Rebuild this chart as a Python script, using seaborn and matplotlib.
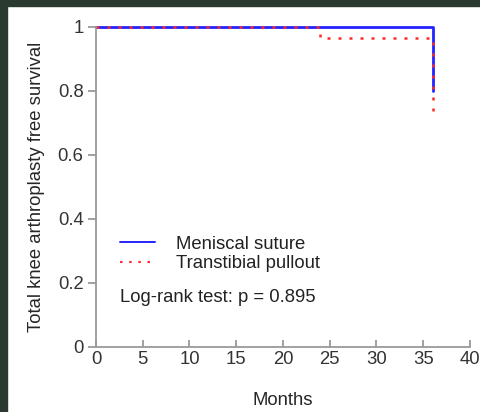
import matplotlib
matplotlib.use("Agg")
import matplotlib.pyplot as plt
import seaborn as sns
import pandas as pd
from matplotlib.patches import Rectangle

# Kaplan-Meier step data (months, survival)
suture_months = [0, 36, 36]
suture_surv = [1.0, 1.0, 0.80]
pullout_months = [0, 24, 24, 36, 36]
pullout_surv = [1.0, 1.0, 0.967, 0.967, 0.73]
group_names = ["Meniscal suture", "Transtibial pullout"]
x_ticks = [0, 5, 10, 15, 20, 25, 30, 35, 40]
y_ticks = [0, 0.2, 0.4, 0.6, 0.8, 1]
y_tick_labels = ["0", "0.2", "0.4", "0.6", "0.8", "1"]
stat_text = "Log-rank test: p = 0.895"

sns.set_style("white")
plt.rcParams["font.family"] = ["Liberation Sans", "DejaVu Sans"]
fs = 13.3

df = pd.concat([
    pd.DataFrame({"Months": suture_months, "surv": suture_surv, "group": group_names[0]}),
    pd.DataFrame({"Months": pullout_months, "surv": pullout_surv, "group": group_names[1]}),
])

fig = plt.figure(figsize=(4.81, 4.12), dpi=100)
ax = fig.add_axes([0.1996, 0.158, 0.7774, 0.7765])

sns.lineplot(data=df[df.group == group_names[0]], x="Months", y="surv", sort=False,
             color="#2323ff", lw=2.0, ax=ax, label=group_names[0], estimator=None)
sns.lineplot(data=df[df.group == group_names[1]], x="Months", y="surv", sort=False,
             color="#ff2a2a", lw=1.8, ls=(0, (1.2, 3.2)), ax=ax, label=group_names[1], estimator=None)
for ln in ax.lines:
    ln.set_clip_on(False)

ax.set_xlim(0, 40)
ax.set_ylim(0, 1)
ax.set_xticks(x_ticks)
ax.set_yticks(y_ticks)
ax.set_yticklabels(y_tick_labels)
ax.set_xlabel("Months", fontsize=fs, labelpad=17)
ax.set_ylabel("Total knee arthroplasty free survival", fontsize=fs, labelpad=9)
for s in ["top", "right"]:
    ax.spines[s].set_visible(False)
for s in ["left", "bottom"]:
    ax.spines[s].set_color("#9a9a9a")
    ax.spines[s].set_linewidth(1.3)
ax.tick_params(axis="x", bottom=True, direction="in", length=5, color="#9a9a9a",
               labelsize=fs, pad=3, width=1.3)
ax.tick_params(axis="y", left=True, direction="out", length=6, color="#9a9a9a",
               labelsize=fs, pad=3, width=1.3)
for lab in ax.get_xticklabels() + ax.get_yticklabels():
    lab.set_color("#333333")

leg = ax.legend(loc="upper left", bbox_to_anchor=(0.02, 0.40), frameon=False,
                fontsize=fs, handlelength=1.9, handletextpad=1.1, labelspacing=0.15)
for t in leg.get_texts():
    t.set_color("#222222")
leg.get_lines()[0].set_linewidth(1.4)
leg.get_lines()[1].set_linewidth(1.5)
ax.text(0.064, 0.155, stat_text, transform=ax.transAxes, fontsize=fs, color="#222222", va="center")

# dark frame strips from the screenshot
fig.patches.append(Rectangle((0, 0), 7 / 481, 1, transform=fig.transFigure, color="#2a3a31", zorder=10))
fig.patches.append(Rectangle((0, 1 - 6 / 412), 1, 6 / 412, transform=fig.transFigure, color="#2a3a31", zorder=10))

fig.savefig("out.png", dpi=100)
